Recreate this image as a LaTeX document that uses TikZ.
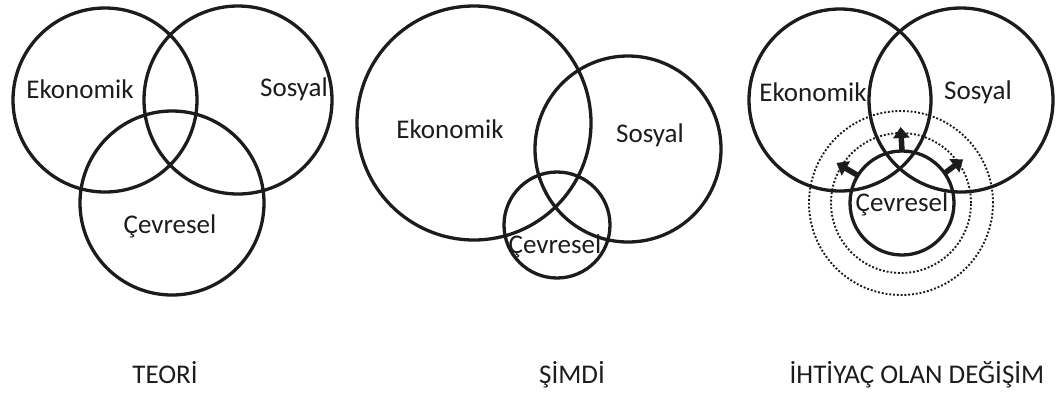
\documentclass[tikz,border=0pt]{standalone}
\usepackage{fontspec}
\setmainfont{Carlito}
\usetikzlibrary{arrows.meta}
\definecolor{vnink}{HTML}{1C1C1C}
\tikzset{
  ring/.style={circle, draw=vnink, line width=3.3pt, inner sep=0pt, outer sep=0pt},
  dotring/.style={circle, draw=vnink, line width=1.9pt, dash pattern=on 1.9pt off 1.9pt, inner sep=0pt, outer sep=0pt},
  lbl/.style={font=\fontsize{27}{31}\selectfont, text=vnink, inner sep=0pt},
  ttl/.style={lbl, anchor=base},
  push/.style={-{Triangle[length=11pt,width=16pt]}, line width=5.5pt, color=vnink},
}

\begin{document}
\begin{tikzpicture}[x=1pt, y=-1pt]
  \useasboundingbox (0,0) rectangle (1056,392);
  % TEORI
  \node[ring, minimum size=184pt] (eko1) at (105,100) {};
  \node[ring, minimum size=188pt] (sos1) at (238,100) {};
  \node[ring, minimum size=184pt] (cev1) at (172,203) {};
  \node[lbl] (ekot1) at (80,89) {Ekonomik};
  \node[lbl] (sost1) at (294,89) {Sosyal};
  \node[lbl] (cevt1) at (170,226) {Çevresel};
  \node[ttl] (ttl1) at (165,383) {TEORİ};
  % SIMDI
  \node[ring, minimum size=234pt] (eko2) at (474,123) {};
  \node[ring, minimum size=186pt] (sos2) at (628,149) {};
  \node[ring, minimum size=106pt] (cev2) at (557,225) {};
  \node[lbl] (ekot2) at (450,129) {Ekonomik};
  \node[lbl] (sost2) at (650,135) {Sosyal};
  \node[lbl] (cevt2) at (555,246) {Çevresel};
  \node[ttl] (ttl2) at (572,383) {ŞİMDİ};
  % IHTIYAC
  \node[dotring, minimum size=184pt] (dotout) at (901,203) {};
  \node[dotring, minimum size=140pt] (dotin) at (901,203) {};
  \node[ring, minimum size=182pt] (eko3) at (840,100) {};
  \node[ring, minimum size=184pt] (sos3) at (961,100) {};
  \node[ring, minimum size=104pt] (cev3) at (902,203) {};
  \node[lbl] (ekot3) at (813,92) {Ekonomik};
  \node[lbl] (sost3) at (978,92) {Sosyal};
  \node[lbl] (cevt3) at (902,204) {Çevresel};
  \node[ttl] (ttl3) at (917,383) {İHTİYAÇ OLAN DEĞİŞİM};
  \foreach \ang in {148,90,35}
    \draw[push, shorten >=-6pt] (cev3.\ang) -- (dotin.\ang);
\end{tikzpicture}
\end{document}
